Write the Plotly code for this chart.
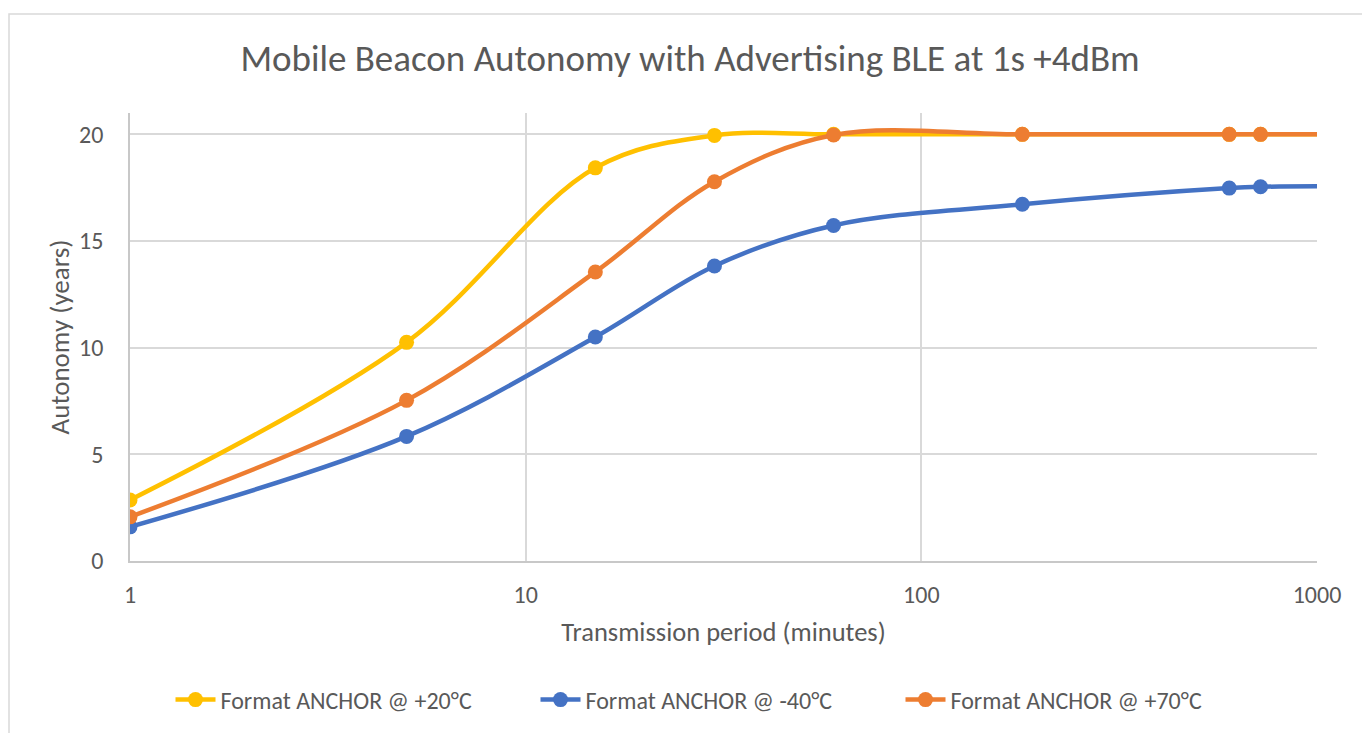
import plotly.graph_objects as go

# ---- data ----
periods = [1, 5, 15, 30, 60, 180, 600, 720, 1440]
temp_p20 = [2.86, 10.25, 18.43, 19.95, 20.0, 20.0, 20.0, 20.0, 20.0]
temp_m40 = [1.6, 5.84, 10.5, 13.83, 15.73, 16.72, 17.48, 17.54, 17.56]
temp_p70 = [2.07, 7.53, 13.55, 17.78, 19.97, 20.0, 20.0, 20.0, 20.0]
series_names = ["Format ANCHOR @ +20°C", "Format ANCHOR @ -40°C", "Format ANCHOR @ +70°C"]
x_tickvals = [1, 10, 100, 1000]
x_ticktext = ["1", "10", "100", "1000"]
y_tickvals = [0, 5, 10, 15, 20]

colors = ["#FFC000", "#4472C4", "#ED7D31"]
FONT = "Calibri, Carlito, Lato, sans-serif"
TXT = "#595959"

fig = go.Figure()
for name, ys, c in zip(series_names, [temp_p20, temp_m40, temp_p70], colors):
    fig.add_trace(go.Scatter(
        x=periods, y=ys, name=name, mode="lines+markers",
        line=dict(color=c, width=4.5, shape="spline", smoothing=1),
        marker=dict(color=c, size=15, symbol="circle"),
        cliponaxis=True,
    ))

W, H = 1362, 733
L, R, T, B = 130, 45, 113, 172
pw, ph = W - L - R, H - T - B

def px(xp):
    return (xp - L) / pw

def py(yp):
    return (H - B - yp) / ph

fig.update_layout(
    width=W, height=H,
    margin=dict(l=L, r=R, t=T, b=B, pad=0, autoexpand=False),
    paper_bgcolor="white", plot_bgcolor="white",
    font=dict(family=FONT, color=TXT, size=24),
    title=dict(text="Mobile Beacon Autonomy with Advertising BLE at 1s +4dBm",
               xref="container", x=690 / W, xanchor="center",
               yref="container", y=1 - 58 / H, yanchor="middle",
               font=dict(size=37, color=TXT, family=FONT)),
    xaxis=dict(type="log", range=[0, 3], tickvals=x_tickvals, ticktext=x_ticktext,
               showgrid=True, gridcolor="#d9d9d9", gridwidth=1.5,
               showline=True, linecolor="#c8c8c8", linewidth=1.5, automargin=False,
               ticks="", ticklabelstandoff=11, zeroline=False,
               title=dict(text="Transmission period (minutes)", font=dict(size=26.5, color=TXT), standoff=15),
               tickfont=dict(size=24, color=TXT)),
    yaxis=dict(range=[0, 21], tickvals=y_tickvals,
               showgrid=True, gridcolor="#d9d9d9", gridwidth=1.5,
               showline=True, linecolor="#c8c8c8", linewidth=1.5, automargin=False,
               ticks="", ticklabelstandoff=20, zeroline=False,
               title=dict(text="Autonomy (years)", font=dict(size=27, color=TXT), standoff=2),
               tickfont=dict(size=24, color=TXT)),
    legend=dict(orientation="h", x=px(718), xanchor="center", y=py(700), yanchor="middle",
                font=dict(size=24, color=TXT), itemwidth=40, bgcolor="rgba(0,0,0,0)",
                entrywidth=310, entrywidthmode="pixels",
                traceorder="normal"),
    shapes=[dict(type="rect", xref="paper", yref="paper",
                 x0=px(9), x1=px(1380), y0=py(760), y1=py(14),
                 line=dict(color="#d9d9d9", width=1.5), fillcolor="rgba(0,0,0,0)", layer="below")],
)

fig.write_html("out.html", config={"displayModeBar": False},
               post_script="document.body.style.margin='0';")
